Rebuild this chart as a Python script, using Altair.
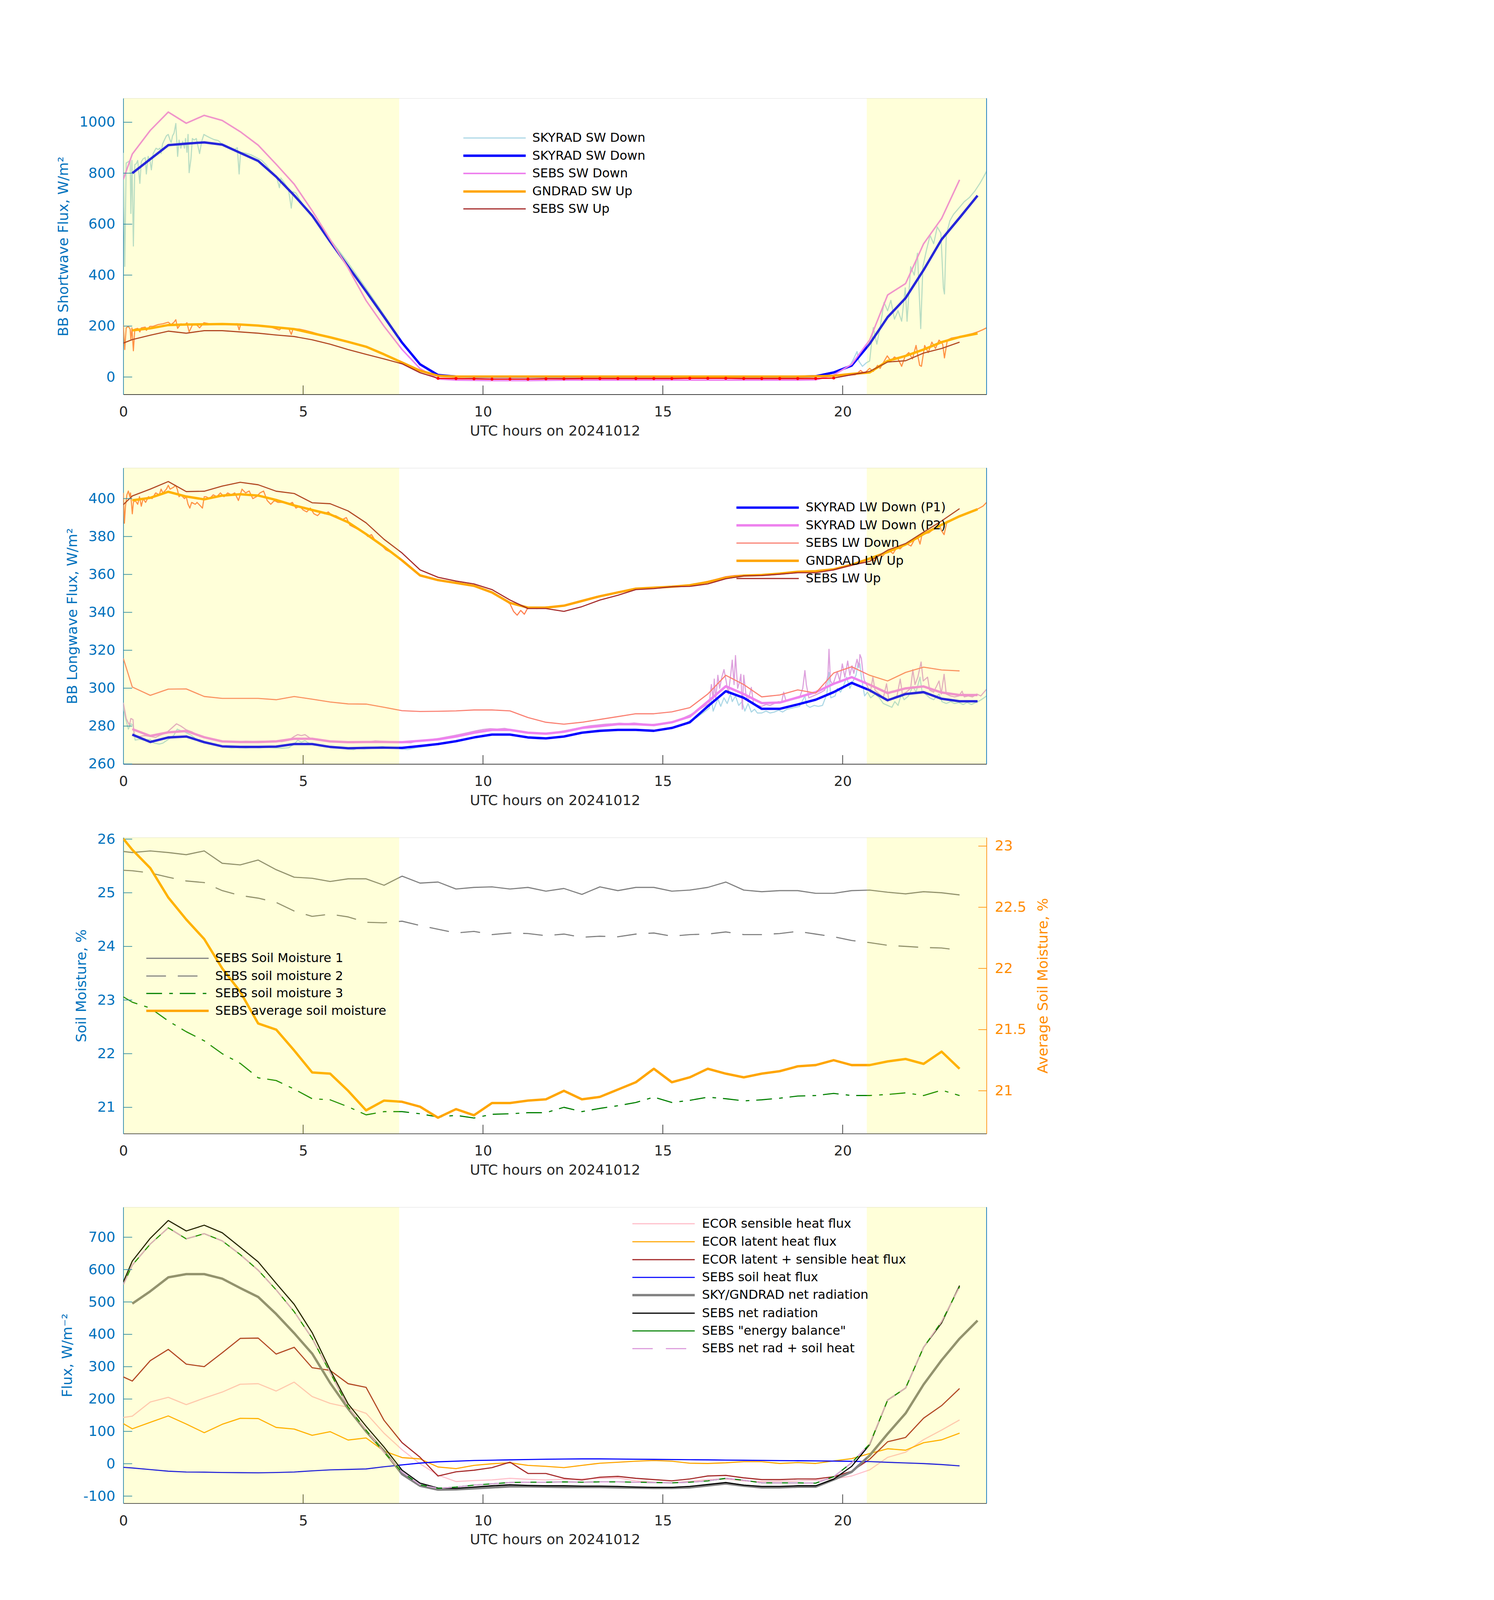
import math
import altair as alt
import pandas as pd

# ------------------------------------------------------------------ data
T_SEBS = [0.0, 0.25, 0.75, 1.25, 1.75, 2.25, 2.75, 3.25,
          3.75, 4.25, 4.75, 5.25, 5.75, 6.25, 6.75, 7.25,
          7.75, 8.25, 8.75, 9.25, 9.75, 10.25, 10.75, 11.25,
          11.75, 12.25, 12.75, 13.25, 13.75, 14.25, 14.75, 15.25,
          15.75, 16.25, 16.75, 17.25, 17.75, 18.25, 18.75, 19.25,
          19.75, 20.25, 20.75, 21.25, 21.75, 22.25, 22.75, 23.25]
T_SKY = [0.25, 0.75, 1.25, 1.75, 2.25, 2.75, 3.25, 3.75,
         4.25, 4.75, 5.25, 5.75, 6.25, 6.75, 7.25, 7.75,
         8.25, 8.75, 9.25, 9.75, 10.25, 10.75, 11.25, 11.75,
         12.25, 12.75, 13.25, 13.75, 14.25, 14.75, 15.25, 15.75,
         16.25, 16.75, 17.25, 17.75, 18.25, 18.75, 19.25, 19.75,
         20.25, 20.75, 21.25, 21.75, 22.25, 22.75, 23.25, 23.75]
SHADE_START = [0.0, 20.67]
SHADE_END = [7.67, 24.0]
X_TICKS = [0, 5, 10, 15, 20]

# panel 1 : shortwave
SW_DN_RAW = [(0.0, 880), (0.04, 434), (0.08, 840), (0.14, 845), (0.19, 850), (0.21, 642), (0.24, 850),
             (0.28, 514), (0.32, 834), (0.36, 837), (0.40, 850), (0.46, 760), (0.50, 845), (0.55, 856),
             (0.61, 861), (0.64, 797), (0.69, 866), (0.74, 850), (0.78, 813), (0.83, 877), (0.91, 898),
             (0.97, 893), (1.02, 898), (1.05, 877), (1.09, 914), (1.14, 930), (1.20, 947), (1.25, 952),
             (1.30, 930), (1.33, 920), (1.37, 947), (1.41, 957), (1.46, 995), (1.51, 866), (1.55, 930),
             (1.60, 898), (1.65, 925), (1.70, 898), (1.73, 936), (1.77, 882), (1.80, 952), (1.83, 802),
             (1.88, 856), (1.92, 936), (1.97, 930), (2.03, 936), (2.12, 877), (2.18, 925), (2.24, 952),
             (2.30, 947), (2.41, 939), (2.52, 932), (2.64, 928), (2.75, 914), (2.86, 907), (2.98, 898),
             (3.09, 893), (3.17, 900), (3.22, 797), (3.26, 882), (3.39, 879), (3.55, 872), (3.70, 861),
             (3.85, 850), (3.96, 834), (4.08, 813), (4.19, 797), (4.27, 781), (4.34, 743), (4.38, 781),
             (4.49, 760), (4.59, 738), (4.67, 663), (4.72, 727), (4.80, 722), (4.91, 695), (5.06, 663),
             (5.21, 636), (5.50, 588), (5.75, 540), (6.00, 495), (6.25, 448), (6.50, 398), (6.75, 348),
             (7.00, 296), (7.25, 244), (7.50, 190), (7.75, 138), (8.00, 92), (8.25, 52), (8.50, 24),
             (8.75, 9), (9.00, 3), (9.50, 1), (10.5, 1), (11.5, 1), (12.5, 1), (13.5, 1), (14.5, 1),
             (15.5, 1), (16.5, 1), (17.5, 1), (18.5, 1), (19.25, 3), (19.50, 8), (19.75, 18), (20.00, 30),
             (20.20, 45), (20.30, 70), (20.40, 100), (20.45, 62), (20.55, 42), (20.65, 55), (20.75, 63),
             (20.85, 194), (20.95, 129), (21.05, 203), (21.15, 293), (21.25, 260), (21.34, 301),
             (21.44, 227), (21.54, 260), (21.64, 219), (21.74, 350), (21.79, 219), (21.89, 433),
             (21.99, 400), (22.08, 486), (22.17, 190), (22.23, 433), (22.33, 498), (22.43, 556),
             (22.53, 523), (22.63, 589), (22.73, 564), (22.80, 350), (22.83, 326), (22.88, 556),
             (22.98, 613), (23.08, 638), (23.23, 663), (23.38, 688), (23.52, 704), (23.67, 729),
             (23.82, 761), (23.92, 786), (24.0, 807)]
SW_UP_RAW = [(0.0, 204), (0.04, 108), (0.08, 193), (0.14, 199), (0.19, 188), (0.21, 145), (0.24, 193),
             (0.28, 103), (0.32, 188), (0.40, 191), (0.46, 177), (0.50, 193), (0.61, 196), (0.64, 183),
             (0.74, 199), (0.83, 199), (0.97, 206), (1.10, 209), (1.25, 215), (1.33, 206), (1.41, 215),
             (1.46, 225), (1.51, 191), (1.60, 209), (1.70, 204), (1.77, 213), (1.83, 177), (1.92, 204),
             (2.03, 206), (2.12, 193), (2.24, 213), (2.40, 209), (2.60, 207), (2.80, 208), (3.00, 207),
             (3.17, 209), (3.22, 185), (3.26, 206), (3.50, 204), (3.80, 201), (4.10, 196), (4.34, 185),
             (4.40, 193), (4.60, 191), (4.67, 167), (4.72, 190), (4.90, 188), (5.06, 183), (5.25, 176),
             (5.50, 165), (6.00, 148), (6.50, 129), (7.00, 105), (7.50, 74), (8.00, 40), (8.50, 12),
             (9.00, 3), (9.50, 1), (10.5, 1), (11.5, 1), (12.5, 1), (13.5, 1), (14.5, 1), (15.5, 1),
             (16.5, 1), (17.5, 1), (18.5, 1), (19.5, 2), (20.0, 6), (20.35, 9), (20.50, 26), (20.60, 14),
             (20.75, 34), (20.85, 22), (20.97, 46), (21.04, 34), (21.14, 59), (21.24, 83), (21.34, 63),
             (21.44, 79), (21.54, 71), (21.64, 42), (21.74, 83), (21.84, 96), (21.94, 71), (22.04, 124),
             (22.14, 46), (22.19, 42), (22.28, 124), (22.38, 96), (22.48, 137), (22.58, 112), (22.68, 145),
             (22.78, 129), (22.83, 75), (22.91, 145), (23.03, 153), (23.18, 157), (23.33, 161),
             (23.47, 166), (23.62, 171), (23.77, 178), (23.90, 186), (24.0, 193)]
SKY_SW_DN = [800, 855, 910, 916, 921, 912, 880, 848,
             786, 713, 634, 532, 434, 336, 236, 135,
             50, 8, 2, 1, 1, 1, 1, 1,
             1, 1, 1, 1, 1, 1, 1, 1,
             1, 1, 1, 1, 1, 1, 3, 18,
             45, 130, 235, 310, 420, 540, 625, 712]
SEBS_SW_DN = [776, 875, 968, 1040, 996, 1027, 1007, 963,
              910, 835, 757, 653, 540, 428, 300, 199,
              108, 33, -8, -12, -13, -14, -14, -14,
              -13, -12, -12, -12, -12, -12, -12, -12,
              -12, -12, -12, -12, -12, -12, -12, -11,
              8, 50, 145, 322, 367, 523, 622, 774]
GND_SW_UP = [183, 191, 204, 206, 207, 208, 206, 202,
             195, 188, 172, 156, 138, 119, 89, 57,
             25, 5, 2, 2, 2, 2, 2, 2,
             2, 2, 2, 2, 2, 2, 2, 2,
             2, 2, 2, 2, 2, 2, 3, 5,
             12, 18, 63, 83, 108, 137, 157, 171]
SEBS_SW_UP = [133, 147, 164, 180, 172, 182, 182, 177,
              172, 165, 159, 146, 129, 108, 89, 71,
              52, 17, -5, -6, -7, -8, -8, -8,
              -7, -7, -6, -6, -6, -6, -6, -6,
              -5, -5, -5, -6, -6, -6, -6, -6,
              -4, 9, 22, 59, 64, 94, 112, 137]
SW_TICKS = [0, 200, 400, 600, 800, 1000]

# panel 2 : longwave
LW_P1_RAW = [(0.0, 290.6), (0.04, 286), (0.08, 282.7), (0.14, 278.4), (0.21, 281.2), (0.27, 280.5),
             (0.33, 272.6), (0.45, 273), (0.6, 272.5), (0.75, 273), (0.85, 271), (1.0, 270.5), (1.1, 271),
             (1.25, 273), (1.4, 275), (1.5, 278.4), (1.6, 277.5), (1.7, 277), (1.8, 276), (1.9, 275),
             (2.0, 273.5), (2.1, 272), (2.3, 271), (2.5, 270.5), (2.6, 270), (2.8, 269), (3.0, 268.5),
             (3.2, 268.8), (3.4, 268.5), (3.6, 268.8), (3.8, 268.6), (4.0, 268.8), (4.2, 268.5),
             (4.4, 268.3), (4.6, 268.6), (4.75, 270.5), (4.85, 272.5), (4.95, 271.5), (5.05, 272.3),
             (5.2, 270.5), (5.4, 269.8), (5.6, 269), (5.8, 268.8), (6.0, 268.5), (6.2, 268), (6.4, 267.5),
             (6.5, 268.2), (6.7, 268), (6.9, 268.3), (7.0, 268.8), (7.2, 269.2), (7.4, 268.5), (7.6, 268.2),
             (7.9, 267.6), (8.2, 268.8), (8.4, 269.2), (8.6, 270), (8.8, 270.5), (9.0, 271), (9.2, 271.8),
             (9.4, 272.5), (9.6, 273.5), (9.8, 274.2), (10.0, 275), (10.2, 275.5), (10.4, 275.8),
             (10.6, 275.6), (10.8, 275.2), (11.0, 274.8), (11.2, 274), (11.4, 273.5), (11.6, 273.2),
             (11.8, 273.5), (12.0, 273.8), (12.2, 274.5), (12.4, 275.2), (12.6, 276), (12.8, 276.8),
             (13.0, 277.2), (13.2, 277.5), (13.4, 277.8), (13.6, 278), (13.8, 278.2), (14.0, 278),
             (14.2, 278.3), (14.4, 277.8), (14.6, 277.5), (14.8, 277.6), (15.0, 278), (15.2, 278.8),
             (15.4, 279.8), (15.6, 281), (15.77, 283), (15.94, 284.5), (16.12, 287), (16.29, 289.4),
             (16.35, 293.9), (16.4, 287.9), (16.53, 294.4), (16.61, 290.4), (16.7, 294.9), (16.79, 291.9),
             (16.88, 296.9), (16.93, 292.9), (17.02, 295.9), (17.11, 290.9), (17.2, 292.9), (17.28, 287.9),
             (17.37, 291.9), (17.46, 287.4), (17.55, 288.9), (17.63, 286.9), (17.75, 286.9), (17.87, 287.9),
             (17.98, 286.9), (18.1, 287.4), (18.22, 288.4), (18.33, 287.4), (18.45, 288.9), (18.57, 289.4),
             (18.68, 289.9), (18.8, 290.4), (18.95, 295.9), (19.0, 290.9), (19.09, 289.9), (19.21, 290.9),
             (19.32, 290.4), (19.44, 290.9), (19.56, 296.9), (19.62, 308.3), (19.67, 294.9), (19.79, 295.9),
             (19.85, 299.9), (19.94, 297.9), (20.02, 300.9), (20.11, 305.8), (20.2, 299.9), (20.29, 303.8),
             (20.37, 306.8), (20.43, 313.3), (20.48, 312.8), (20.52, 305.8), (20.61, 295.9), (20.69, 297.9),
             (20.78, 294.9), (20.9, 296.9), (21.02, 294.9), (21.13, 291.9), (21.25, 290.9), (21.37, 289.9),
             (21.45, 292.9), (21.54, 290.9), (21.63, 296.9), (21.71, 293.9), (21.83, 295.9), (21.95, 300.9),
             (22.04, 297.9), (22.15, 305.8), (22.21, 297.9), (22.3, 296.9), (22.42, 294.9), (22.53, 293.9),
             (22.68, 296.9), (22.76, 292.9), (22.88, 291.9), (23.0, 292.9), (23.11, 291.9), (23.23, 292.4),
             (23.35, 291.4), (23.46, 292.4), (23.58, 291.4), (23.7, 292.4), (23.81, 293.4), (23.93, 294.9),
             (24.0, 295.9)]
LW_P2_RAW = [(0.0, 292.3), (0.08, 284), (0.17, 280.5), (0.21, 284), (0.27, 283.4), (0.3, 275), (0.45, 274.5),
             (0.6, 275), (0.75, 274.5), (0.9, 274), (1.0, 275), (1.2, 276.5), (1.35, 279), (1.48, 281.2),
             (1.6, 280), (1.75, 278), (1.9, 277), (2.0, 276), (2.2, 274.5), (2.4, 273.5), (2.6, 272.5),
             (2.8, 272), (3.0, 271.8), (3.2, 271.6), (3.4, 272), (3.6, 271.8), (3.8, 272), (4.0, 272),
             (4.2, 272.2), (4.4, 271.8), (4.6, 272.5), (4.75, 274.5), (4.85, 275.5), (4.95, 275),
             (5.05, 275.5), (5.2, 273.5), (5.4, 272.8), (5.6, 272.5), (5.8, 272), (6.0, 272), (6.2, 271.5),
             (6.4, 271.2), (6.6, 271.8), (6.8, 271.5), (7.0, 272.2), (7.2, 272), (7.4, 271.8), (7.6, 271.5),
             (7.8, 271.3), (8.0, 271.2), (8.2, 272.3), (8.4, 272.6), (8.6, 273), (8.8, 273.6), (9.0, 274.3),
             (9.2, 275), (9.4, 275.8), (9.6, 276.6), (9.8, 277.5), (10.0, 278.2), (10.2, 278.6),
             (10.4, 278.4), (10.6, 278.8), (10.8, 278), (11.0, 277.5), (11.2, 276.8), (11.4, 276.3),
             (11.6, 276), (11.8, 276.4), (12.0, 276.5), (12.2, 277.3), (12.4, 278), (12.6, 278.8),
             (12.8, 279.6), (13.0, 280.2), (13.2, 280.6), (13.4, 281), (13.6, 281.2), (13.8, 281.5),
             (14.0, 281.2), (14.2, 281.6), (14.4, 281.2), (14.6, 280.8), (14.8, 281), (15.0, 281.4),
             (15.2, 282), (15.4, 283), (15.6, 284.5), (15.77, 286), (15.94, 288), (16.12, 290),
             (16.29, 291.9), (16.35, 301.9), (16.4, 293.9), (16.43, 304.8), (16.47, 293.9), (16.53, 306.8),
             (16.58, 299.9), (16.64, 305.8), (16.7, 309.8), (16.76, 303.8), (16.82, 296.9), (16.88, 305.8),
             (16.93, 314.8), (16.98, 301.9), (17.02, 317.2), (17.08, 299.9), (17.14, 303.8), (17.17, 307.3),
             (17.21, 288.9), (17.25, 306.8), (17.31, 296.9), (17.37, 292.9), (17.46, 300.4), (17.52, 291.9),
             (17.63, 290.9), (17.75, 290.4), (17.87, 291.4), (17.98, 290.9), (18.1, 291.9), (18.22, 292.9),
             (18.3, 292.4), (18.36, 297.9), (18.42, 293.4), (18.57, 293.9), (18.68, 294.4), (18.8, 294.9),
             (18.89, 299.9), (18.95, 309.3), (18.99, 301.9), (19.06, 294.9), (19.18, 295.9), (19.3, 296.9),
             (19.41, 297.9), (19.5, 298.9), (19.59, 306.8), (19.62, 320.5), (19.66, 303.8), (19.73, 301.9),
             (19.85, 308.8), (19.92, 303.8), (19.99, 312.8), (20.06, 305.8), (20.14, 314.3), (20.2, 306.8),
             (20.26, 311.8), (20.31, 307.8), (20.4, 315.2), (20.45, 310.8), (20.48, 317.7), (20.52, 315.7),
             (20.56, 308.8), (20.6, 304.3), (20.69, 300.9), (20.77, 297.9), (20.84, 305.8), (20.9, 298.9),
             (21.02, 296.9), (21.13, 294.9), (21.22, 302.3), (21.28, 293.9), (21.39, 294.4), (21.51, 295.9),
             (21.6, 304.8), (21.66, 296.9), (21.77, 297.9), (21.89, 299.9), (21.95, 309.8), (22.01, 301.9),
             (22.09, 305.8), (22.18, 313.8), (22.24, 303.8), (22.36, 305.8), (22.42, 298.9), (22.53, 297.9),
             (22.68, 303.8), (22.74, 296.9), (22.82, 307.3), (22.88, 296.9), (23.0, 295.9), (23.11, 295.4),
             (23.23, 295.9), (23.32, 298.4), (23.38, 295.4), (23.49, 295.9), (23.61, 295.4), (23.73, 296.9),
             (23.84, 295.9), (23.93, 297.9), (24.0, 299.4)]
LW_UP_RAW = [(0.0, 403), (0.03, 387), (0.06, 396), (0.1, 402), (0.14, 404), (0.18, 401), (0.2, 403),
             (0.22, 399), (0.25, 392), (0.28, 398), (0.33, 399), (0.4, 397), (0.45, 401), (0.5, 396),
             (0.55, 400), (0.62, 398), (0.7, 401), (0.8, 400), (0.9, 403), (1.0, 402), (1.05, 405),
             (1.1, 403), (1.2, 405), (1.25, 407), (1.3, 405), (1.4, 406), (1.45, 407), (1.5, 405),
             (1.55, 401), (1.6, 402), (1.7, 400), (1.75, 401), (1.8, 397), (1.85, 395), (1.9, 398),
             (2.0, 397), (2.05, 398), (2.15, 396), (2.2, 395), (2.25, 401), (2.3, 401), (2.4, 400),
             (2.5, 402), (2.6, 401), (2.7, 403), (2.8, 401), (2.9, 403), (3.0, 402), (3.1, 403), (3.2, 399),
             (3.25, 402), (3.3, 405), (3.4, 403), (3.5, 404), (3.6, 400), (3.7, 401), (3.8, 403), (3.9, 404),
             (4.0, 399), (4.1, 397), (4.2, 399), (4.3, 398), (4.4, 398), (4.5, 398), (4.6, 397), (4.7, 398),
             (4.8, 395), (4.9, 396), (5.0, 394), (5.1, 393), (5.2, 395), (5.3, 392), (5.4, 391), (5.5, 393),
             (5.6, 392), (5.7, 393), (5.8, 391), (5.9, 391), (6.0, 390), (6.1, 389), (6.2, 390), (6.3, 386),
             (6.4, 385), (6.5, 384), (6.6, 383), (6.7, 382), (6.8, 380), (6.9, 381), (7.0, 378), (7.1, 377),
             (7.2, 375), (7.3, 373), (7.5, 371), (7.75, 367.5), (8.0, 363.5), (8.25, 359.5), (8.5, 358),
             (8.75, 357.2), (9.0, 356), (9.25, 355.8), (9.5, 355), (9.75, 354), (10.0, 352.5), (10.25, 350.5),
             (10.5, 348), (10.75, 344.5), (10.85, 340.5), (10.95, 338.5), (11.05, 341), (11.15, 339),
             (11.25, 342.5), (11.5, 342), (11.75, 342.8), (12.0, 343), (12.25, 343.6), (12.5, 345),
             (12.75, 346.3), (13.0, 347.5), (13.25, 348.6), (13.5, 349.3), (13.75, 350.8), (14.0, 351.5),
             (14.25, 352.6), (14.5, 352.8), (14.75, 353.2), (15.0, 353.1), (15.25, 353.6), (15.5, 354),
             (15.75, 354.5), (16.0, 355.2), (16.25, 356.3), (16.5, 357.5), (16.75, 358.8), (17.0, 359.4),
             (17.25, 359.6), (17.5, 359.6), (17.75, 359.9), (18.0, 360.3), (18.25, 360.5), (18.5, 361),
             (18.75, 361.3), (19.0, 361.8), (19.25, 361.6), (19.5, 362.2), (19.75, 362.8), (20.0, 363.8),
             (20.25, 365.3), (20.5, 366.5), (20.75, 368.2), (20.9, 367), (21.0, 370.5), (21.1, 369.5),
             (21.2, 371.5), (21.3, 372.5), (21.4, 371), (21.5, 374), (21.6, 373.5), (21.7, 375.5), (21.8, 376),
             (21.9, 375), (22.0, 378.5), (22.1, 379), (22.15, 376), (22.2, 380.5), (22.3, 381.5), (22.4, 382),
             (22.5, 383.5), (22.6, 384.5), (22.7, 385.5), (22.75, 383), (22.82, 381), (22.9, 388),
             (23.0, 388.5), (23.1, 389.5), (23.2, 390), (23.3, 391), (23.4, 392), (23.5, 392.5),
             (23.6, 393.5), (23.7, 394), (23.8, 395), (23.9, 396), (24.0, 398)]
SKY_LW_P1 = [275.5, 271.6, 274.0, 274.5, 271.5, 269.3, 269.0, 269.0,
             269.2, 270.5, 270.5, 269.0, 268.3, 268.5, 268.6, 268.5,
             269.5, 270.5, 272.0, 274.0, 275.5, 275.5, 274.0, 273.5,
             274.5, 276.5, 277.5, 278.0, 278.0, 277.5, 279.0, 282.0,
             290.4, 298.4, 294.9, 289.1, 289.1, 291.4, 293.9, 297.9,
             302.8, 298.9, 293.6, 296.9, 297.9, 294.4, 293.1, 293.1]
SKY_LW_P2 = [278.4, 274.8, 276.7, 277.4, 274.1, 271.9, 271.6, 271.6,
             271.9, 273.3, 273.3, 271.9, 271.5, 271.6, 271.6, 271.5,
             272.2, 273.0, 274.5, 276.5, 278.0, 278.0, 276.5, 276.0,
             277.0, 279.0, 280.0, 281.0, 281.0, 280.5, 282.0, 285.0,
             292.9, 301.0, 296.9, 292.1, 292.4, 295.1, 297.9, 302.3,
             305.8, 301.8, 297.4, 299.9, 300.9, 297.7, 296.4, 296.4]
SEBS_LW_DN = [315.7, 300.6, 296.2, 299.5, 299.6, 295.6, 294.6, 294.6,
              294.6, 293.9, 295.6, 294.2, 292.7, 291.7, 291.6, 289.9,
              288.1, 287.7, 287.8, 288.0, 288.5, 288.5, 288.0, 284.5,
              282.0, 281.0, 282.0, 283.5, 285.0, 286.5, 286.5, 287.5,
              289.7, 296.9, 306.8, 301.9, 295.4, 296.4, 299.1, 297.4,
              308.0, 311.3, 306.8, 303.8, 308.3, 311.1, 309.6, 309.1]
GND_LW_UP = [399.1, 400.4, 403.6, 401.1, 399.6, 401.6, 402.3, 401.6,
             399.3, 396.4, 394.0, 391.7, 387.5, 381.3, 374.6, 367.4,
             359.5, 357.0, 355.5, 354.0, 350.5, 345.0, 342.5, 342.5,
             343.5, 346.0, 348.5, 350.5, 352.5, 353.0, 353.5, 354.3,
             356.0, 358.2, 359.4, 359.7, 360.4, 361.4, 361.7, 362.7,
             365.1, 368.4, 371.8, 375.8, 381.3, 386.2, 390.7, 394.4]
SEBS_LW_UP = [396.8, 401.4, 405.0, 409.0, 403.7, 403.9, 406.6, 408.6,
              407.3, 403.9, 402.7, 397.8, 397.3, 393.5, 387.2, 378.5,
              371.3, 362.4, 358.5, 356.5, 355.0, 352.0, 346.5, 342.0,
              342.0, 340.5, 343.0, 346.5, 349.0, 352.0, 352.5, 353.5,
              353.7, 355.0, 357.7, 359.2, 359.4, 360.1, 360.9, 360.9,
              362.4, 364.9, 366.9, 372.8, 376.3, 382.3, 388.2, 394.7]
LW_TICKS = [260, 280, 300, 320, 340, 360, 380, 400]

# panel 3 : soil moisture
SM1 = [25.77, 25.75, 25.78, 25.75, 25.71, 25.78, 25.55, 25.52,
       25.61, 25.43, 25.29, 25.27, 25.21, 25.26, 25.26, 25.14,
       25.31, 25.18, 25.20, 25.07, 25.10, 25.11, 25.07, 25.10,
       25.03, 25.08, 24.97, 25.11, 25.04, 25.10, 25.10, 25.03,
       25.05, 25.10, 25.20, 25.05, 25.02, 25.04, 25.04, 24.99,
       24.99, 25.04, 25.05, 25.01, 24.98, 25.02, 25.00, 24.96]
SM2 = [25.42, 25.41, 25.37, 25.29, 25.22, 25.19, 25.04, 24.95,
       24.90, 24.82, 24.66, 24.56, 24.60, 24.55, 24.45, 24.44,
       24.47, 24.39, 24.32, 24.25, 24.28, 24.22, 24.25, 24.24,
       24.20, 24.23, 24.17, 24.19, 24.18, 24.23, 24.25, 24.19,
       24.22, 24.23, 24.27, 24.22, 24.22, 24.24, 24.28, 24.23,
       24.18, 24.11, 24.07, 24.02, 24.00, 23.98, 23.97, 23.93]
SM3 = [23.06, 22.96, 22.85, 22.61, 22.41, 22.24, 22.00, 21.82,
       21.55, 21.50, 21.34, 21.16, 21.14, 21.01, 20.86, 20.92,
       20.92, 20.88, 20.82, 20.85, 20.80, 20.87, 20.88, 20.90,
       20.90, 21.00, 20.92, 20.98, 21.03, 21.09, 21.19, 21.09,
       21.13, 21.19, 21.16, 21.12, 21.14, 21.17, 21.21, 21.22,
       21.26, 21.22, 21.22, 21.24, 21.27, 21.22, 21.32, 21.22]
SM_AVG = [23.06, 22.97, 22.82, 22.58, 22.40, 22.24, 22.00, 21.81,
          21.55, 21.50, 21.33, 21.15, 21.14, 21.00, 20.84, 20.92,
          20.91, 20.87, 20.78, 20.85, 20.80, 20.90, 20.90, 20.92,
          20.93, 21.00, 20.93, 20.95, 21.01, 21.07, 21.18, 21.07,
          21.11, 21.18, 21.14, 21.11, 21.14, 21.16, 21.20, 21.21,
          21.25, 21.21, 21.21, 21.24, 21.26, 21.22, 21.32, 21.18]
SM_TICKS = [21, 22, 23, 24, 25, 26]
SM_AVG_TICKS = [21, 21.5, 22, 22.5, 23]

# panel 4 : fluxes
ECOR_SH = [143, 147, 190.7, 205.3, 182.7, 202.8, 221.5, 245.7,
           247.4, 224.7, 252.2, 207.7, 186.6, 174.5, 155.9, 94.3,
           43.3, 0, -35, -55, -52, -50, -45, -48,
           -50, -48, -47, -45, -43.5, -53, -57, -59,
           -54, -49, -47, -53, -55, -54, -53, -51,
           -47, -37.8, -19, 19.8, 35.7, 74.6, 104, 135.4]
ECOR_LH = [124, 108, 128, 147.8, 122.7, 96, 121.9, 140.5,
           139.7, 112.2, 107.3, 87.8, 99.2, 73.3, 79.8, 39.3,
           19, 15, -10, -15, -5, 0, 3, -5,
           -8, -12, -5, 1.6, 4.6, 8, 10, 8,
           1.6, 0.9, 3, 6.5, 6.5, 0.9, 3.7, 0.9,
           8.9, 15.8, 31.4, 46.4, 41.9, 65, 73.9, 94.6]
ECOR_SUM = [268.4, 255.5, 318.6, 353.4, 308.0, 300.0, 342.9, 387.4,
            388.3, 338.9, 359.9, 296.8, 288.7, 247.4, 236.0, 134.0,
            65.2, 20, -38, -25, -20, -12, 5, -30,
            -30, -45, -50, -41.5, -39, -45, -49, -52.7,
            -47, -37.8, -36, -43.5, -49, -49, -47, -47,
            -40, -23, 14, 67.9, 81.4, 140.9, 179.6, 232.5]
SEBS_SHF = [-11, -13, -18, -23, -25.5, -26, -27, -27.5,
            -28, -27, -25.5, -22, -19, -17.5, -16, -9.3,
            -3.6, 2, 6, 8, 10, 11, 12, 13,
            14, 14.5, 15, 15, 14.5, 14, 13.5, 13,
            12.5, 12, 11.3, 10.8, 10.3, 9.8, 9.3, 8.8,
            8.3, 7.5, 6.8, 4.5, 2.5, 0.5, -2.5, -6.6]
SKY_NETRAD = [495, 533, 576, 586, 586, 572, 543, 515.4,
              462.8, 403.6, 340.5, 249.8, 170.4, 100.0, 39.3, -32,
              -68, -80, -79, -76, -73, -70, -70, -71,
              -72, -72, -72, -73, -74, -75, -75, -73,
              -67, -61, -68, -73, -73, -71, -71, -49,
              -25, 25.6, 92.6, 155.9, 245, 320, 386.8, 442.6]
SEBS_NETRAD = [561.5, 626.3, 696.8, 751.8, 719.4, 737.2, 713.8, 669.2,
               623.9, 557.5, 492.7, 405.3, 290.3, 185.0, 116.0, 51.4,
               -19.8, -60, -75, -76, -72, -68, -65, -67,
               -68, -68, -69, -69, -70, -72, -73, -73,
               -70, -64, -58, -66, -70, -70, -68, -68,
               -47.6, -8, 59, 196.8, 234, 360, 435, 550.6]
SEBS_EB = [553.4, 614.0, 679.0, 729.0, 695.0, 711.0, 688.7, 646.6,
           598.0, 537.3, 470.0, 387.4, 282.0, 175.3, 104.0, 35.2,
           -25.5, -65, -76, -72, -66, -62, -58, -57,
           -57, -56, -57, -56, -56, -57, -58, -59,
           -57, -53, -45, -51, -59, -59, -59, -60,
           -40, 3, 61, 196.8, 234, 360, 439, 547]
SEBS_NR_SHF = [553.4, 614.0, 679.0, 729.0, 695.0, 711.0, 688.7, 646.6,
               598.0, 537.3, 470.0, 387.4, 282.0, 175.3, 104.0, 35.2,
               -25.5, -65, -76, -72, -66, -62, -58, -57,
               -57, -56, -57, -56, -56, -57, -58, -59,
               -57, -53, -45, -51, -59, -59, -59, -60,
               -40, 3, 61, 196.8, 234, 360, 439, 547]
FLUX_TICKS = [-100, 0, 100, 200, 300, 400, 500, 600, 700]

# ------------------------------------------------------------------ style
K = 1.19  # picture pixels per page pixel


def P(v):
    return v / K


W, H = P(2630), P(902)
FONT = "DejaVu Sans"
BLUE_AX = "#0072BD"
DARK = "#262626"
ORANGE_AX = "#FF8C00"
SW_LEN = P(190)
THIN = P(3.4)
THICK = P(7.2)
FS = P(43)
LFS = P(38)
Y_TITLE_PAD = P(25)


def xscale():
    return alt.Scale(domain=[0, 24], nice=False, zero=False)


XAXIS = alt.Axis(title="UTC hours on 20241012", values=X_TICKS, labelExpr="datum.value + ''",
                 labelFlush=False, labelOverlap=False, labelFontSize=FS, labelFont=FONT,
                 labelColor=DARK, labelPadding=P(32), ticks=False, grid=False, domainColor=DARK,
                 domainWidth=P(2), titleFontSize=FS, titleFont=FONT, titleFontWeight="normal",
                 titleColor=DARK, titlePadding=P(15), zindex=0)


def yaxis(title, values, orient="left", color=BLUE_AX, zindex=0, right_title=False):
    kw = dict(title=title, values=values, orient=orient, labelExpr="datum.value + ''",
              labelFlush=False, labelOverlap=False, labelFontSize=FS, labelFont=FONT,
              labelColor=color, labelPadding=P(25), ticks=False, grid=False, domainColor=color,
              domainWidth=P(2), titleFontSize=FS, titleFont=FONT, titleFontWeight="normal",
              titleColor=color, titlePadding=Y_TITLE_PAD, zindex=zindex)
    if right_title:
        kw.update(titleAngle=270, titleBaseline="top", titlePadding=P(30))
    return alt.Axis(**kw)


def pts_df(pairs, name):
    return pd.DataFrame({"t": [p[0] for p in pairs], "v": [p[1] for p in pairs], "series": name})


def grid_df(ts, vs, name):
    return pd.DataFrame({"t": ts, "v": vs, "series": name})


def make_legend(width, xs, xl, yc, dash=None):
    # xs, xl, yc : reference-picture offsets from the plot origin
    xs, xl, yc = P(xs), P(xl), P(yc)
    size = math.ceil(SW_LEN + width)
    lx = xs - (size / 2 - SW_LEN / 2)
    kw = dict(orient="none", legendX=lx, legendY=yc - size / 2, title=None, symbolType="stroke",
              symbolSize=SW_LEN ** 2, symbolStrokeWidth=width, labelFontSize=LFS, labelFont=FONT,
              labelColor="#000000", labelOffset=xl - lx - size, labelLimit=4000, padding=0)
    if dash:
        kw["symbolDash"] = [P(d) for d in dash]
    return alt.Legend(**kw)


def line(df, color, width, yscale, yax, legend=None, dash=None):
    mk = dict(strokeWidth=width, clip=True, strokeJoin="round")
    if dash:
        mk["strokeDash"] = [P(d) for d in dash]
    if legend is None:
        mk["color"] = color
    enc = dict(x=alt.X("t:Q", scale=xscale(), axis=XAXIS),
               y=alt.Y("v:Q", scale=yscale, axis=yax))
    if legend is not None:
        enc["color"] = alt.Color("series:N", scale=alt.Scale(domain=[df["series"].iloc[0]], range=[color]),
                                 legend=legend)
    return alt.Chart(df).mark_line(**mk).encode(**enc)


def yticks(values, yscale, yax, color, right=False):
    df = pd.DataFrame({"v": values})
    if right:
        xe = dict(x=alt.value(W - P(25)), x2=alt.value(W))
    else:
        xe = dict(x=alt.value(0), x2=alt.value(P(27)))
    return alt.Chart(df).mark_rule(color=color, strokeWidth=P(2)).encode(
        y=alt.Y("v:Q", scale=yscale, axis=yax), **xe)


def xticks():
    df = pd.DataFrame({"t": X_TICKS[1:]})
    return alt.Chart(df).mark_rule(color=DARK, strokeWidth=P(2)).encode(
        x=alt.X("t:Q", scale=xscale(), axis=XAXIS), y=alt.value(H), y2=alt.value(H - P(27)))


def overlay():
    df = pd.DataFrame({"start": SHADE_START, "end": SHADE_END})
    return alt.Chart(df).mark_rect(color="#FFFF00", opacity=0.15).encode(
        x=alt.X("start:Q", scale=xscale(), axis=XAXIS), x2="end:Q", y=alt.value(0), y2=alt.value(H))


def right_edge():
    return alt.Chart(pd.DataFrame({"a": [0]})).mark_rule(color=BLUE_AX, strokeWidth=P(2)).encode(
        x=alt.value(W), y=alt.value(0), y2=alt.value(H))


# ------------------------------------------------------------------ panel 1
Y1 = alt.Scale(domain=[-68, 1094], nice=False, zero=False)
A1 = yaxis("BB Shortwave Flux, W/m²", SW_TICKS)
L1 = dict(xs=1036, xl=1246, rows=[121, 175, 229, 284, 337])
sebs_up_df = grid_df(T_SEBS, SEBS_SW_UP, "SEBS SW Up")
night_df = sebs_up_df[sebs_up_df["v"] < 0]
p1 = alt.layer(
    line(pts_df(SW_DN_RAW, "SKYRAD SW Down"), "#ADD8E6", THIN, Y1, A1,
         make_legend(THIN, L1["xs"], L1["xl"], L1["rows"][0])),
    line(grid_df(T_SKY, SKY_SW_DN, "SKYRAD SW Down "), "#0000FF", THICK, Y1, A1,
         make_legend(THICK, L1["xs"], L1["xl"], L1["rows"][1])),
    line(grid_df(T_SEBS, SEBS_SW_DN, "SEBS SW Down"), "#EE82EE", P(4.6), Y1, A1,
         make_legend(P(4.6), L1["xs"], L1["xl"], L1["rows"][2])),
    line(pts_df(SW_UP_RAW, "GNDRAD SW Up raw"), "#FF7F50", THIN, Y1, A1),
    line(grid_df(T_SKY, GND_SW_UP, "GNDRAD SW Up"), "#FFA500", THICK, Y1, A1,
         make_legend(THICK, L1["xs"], L1["xl"], L1["rows"][3])),
    line(sebs_up_df, "#A52A2A", THIN, Y1, A1,
         make_legend(THIN, L1["xs"], L1["xl"], L1["rows"][4])),
    line(night_df, "#FF0000", P(3), Y1, A1),
    alt.Chart(night_df).mark_point(filled=True, size=P(9) ** 2, color="#FF0000", opacity=1, clip=True).encode(
        x=alt.X("t:Q", scale=xscale(), axis=XAXIS), y=alt.Y("v:Q", scale=Y1, axis=A1)),
    yticks(SW_TICKS, Y1, A1, BLUE_AX),
    xticks(),
    overlay(),
    right_edge(),
).resolve_scale(color="independent").properties(width=W, height=H)

# ------------------------------------------------------------------ panel 2
Y2 = alt.Scale(domain=[260, 416.2], nice=False, zero=False)
A2 = yaxis("BB Longwave Flux, W/m²", LW_TICKS)
L2 = dict(xs=1868, xl=2079, rows=[121, 175, 229, 283, 337])
p2 = alt.layer(
    line(pts_df(LW_P1_RAW, "P1 raw"), "#ADD8E6", THIN, Y2, A2),
    line(pts_df(LW_P2_RAW, "P2 raw"), "#DDA0DD", THIN, Y2, A2),
    line(grid_df(T_SKY, SKY_LW_P1, "SKYRAD LW Down (P1)"), "#0000FF", THICK, Y2, A2,
         make_legend(THICK, L2["xs"], L2["xl"], L2["rows"][0])),
    line(grid_df(T_SKY, SKY_LW_P2, "SKYRAD LW Down (P2)"), "#EE82EE", THICK, Y2, A2,
         make_legend(THICK, L2["xs"], L2["xl"], L2["rows"][1])),
    line(grid_df(T_SEBS, SEBS_LW_DN, "SEBS LW Down"), "#FA8072", THIN, Y2, A2,
         make_legend(THIN, L2["xs"], L2["xl"], L2["rows"][2])),
    line(pts_df(LW_UP_RAW, "LW up raw"), "#FF7F50", THIN, Y2, A2),
    line(grid_df(T_SKY, GND_LW_UP, "GNDRAD LW Up"), "#FFA500", THICK, Y2, A2,
         make_legend(THICK, L2["xs"], L2["xl"], L2["rows"][3])),
    line(grid_df(T_SEBS, SEBS_LW_UP, "SEBS LW Up"), "#A52A2A", THIN, Y2, A2,
         make_legend(THIN, L2["xs"], L2["xl"], L2["rows"][4])),
    yticks(LW_TICKS, Y2, A2, BLUE_AX),
    xticks(),
    overlay(),
    right_edge(),
).resolve_scale(color="independent").properties(width=W, height=H)

# ------------------------------------------------------------------ panel 3
Y3L = alt.Scale(domain=[20.51, 26.03], nice=False, zero=False)
Y3R = alt.Scale(domain=[20.65, 23.07], nice=False, zero=False)
A3L = yaxis("Soil Moisture, %", SM_TICKS)
A3R = yaxis("Average Soil Moisture, %", SM_AVG_TICKS, orient="right", color=ORANGE_AX, zindex=1,
            right_title=True)
L3 = dict(xs=70, xl=280, rows=[368, 422, 475, 528])
DASH2 = [60, 36]
DASH3 = [48, 22, 11, 21]
left3 = alt.layer(
    line(grid_df(T_SEBS, SM1, "SEBS Soil Moisture 1"), "#808080", THIN, Y3L, A3L,
         make_legend(THIN, L3["xs"], L3["xl"], L3["rows"][0])),
    line(grid_df(T_SEBS, SM2, "SEBS soil moisture 2"), "#808080", THIN, Y3L, A3L,
         make_legend(THIN, L3["xs"], L3["xl"], L3["rows"][1], DASH2), DASH2),
    line(grid_df(T_SEBS, SM3, "SEBS soil moisture 3"), "#008000", THIN, Y3L, A3L,
         make_legend(THIN, L3["xs"], L3["xl"], L3["rows"][2], DASH3), DASH3),
    yticks(SM_TICKS, Y3L, A3L, BLUE_AX),
    xticks(),
).resolve_scale(color="independent")
right3 = alt.layer(
    line(grid_df(T_SEBS, SM_AVG, "SEBS average soil moisture"), "#FFA500", THICK, Y3R, A3R,
         make_legend(THICK, L3["xs"], L3["xl"], L3["rows"][3])),
    overlay(),
    yticks(SM_AVG_TICKS, Y3R, A3R, ORANGE_AX, right=True),
).resolve_scale(color="independent")
p3 = alt.layer(left3, right3).resolve_scale(y="independent", color="independent").properties(
    width=W, height=H)

# ------------------------------------------------------------------ panel 4
Y4 = alt.Scale(domain=[-122, 793], nice=False, zero=False)
A4 = yaxis("Flux, W/m⁻²", FLUX_TICKS)
L4 = dict(xs=1551, xl=1763, rows=[50.5, 105.5, 160, 214, 268, 323, 377, 431])
DASH4 = [30, 18]
p4 = alt.layer(
    line(grid_df(T_SEBS, ECOR_SH, "ECOR sensible heat flux"), "#FFC0CB", THIN, Y4, A4,
         make_legend(THIN, L4["xs"], L4["xl"], L4["rows"][0])),
    line(grid_df(T_SEBS, ECOR_LH, "ECOR latent heat flux"), "#FFA500", THIN, Y4, A4,
         make_legend(THIN, L4["xs"], L4["xl"], L4["rows"][1])),
    line(grid_df(T_SEBS, ECOR_SUM, "ECOR latent + sensible heat flux"), "#A52A2A", THIN, Y4, A4,
         make_legend(THIN, L4["xs"], L4["xl"], L4["rows"][2])),
    line(grid_df(T_SEBS, SEBS_SHF, "SEBS soil heat flux"), "#0000FF", THIN, Y4, A4,
         make_legend(THIN, L4["xs"], L4["xl"], L4["rows"][3])),
    line(grid_df(T_SKY, SKY_NETRAD, "SKY/GNDRAD net radiation"), "#808080", THICK, Y4, A4,
         make_legend(THICK, L4["xs"], L4["xl"], L4["rows"][4])),
    line(grid_df(T_SEBS, SEBS_NETRAD, "SEBS net radiation"), "#000000", THIN, Y4, A4,
         make_legend(THIN, L4["xs"], L4["xl"], L4["rows"][5])),
    line(grid_df(T_SEBS, SEBS_EB, 'SEBS "energy balance"'), "#008000", THIN, Y4, A4,
         make_legend(THIN, L4["xs"], L4["xl"], L4["rows"][6])),
    line(grid_df(T_SEBS, SEBS_NR_SHF, "SEBS net rad + soil heat"), "#DDA0DD", THIN, Y4, A4,
         make_legend(THIN, L4["xs"], L4["xl"], L4["rows"][7], [62, 40]), DASH4),
    yticks(FLUX_TICKS, Y4, A4, BLUE_AX),
    xticks(),
    overlay(),
    right_edge(),
).resolve_scale(color="independent").properties(width=W, height=H)

# ------------------------------------------------------------------ compose
chart = alt.vconcat(p1, p2, p3, p4, spacing=P(1126) - H, bounds="flush").resolve_scale(
    color="independent").properties(
    padding={"left": P(375) - 8 - P(204), "top": P(297) - 8, "right": 30, "bottom": 30}
).configure_view(stroke=None).configure(font=FONT)

chart.save("out.html", embed_options={"renderer": "svg", "actions": False})
